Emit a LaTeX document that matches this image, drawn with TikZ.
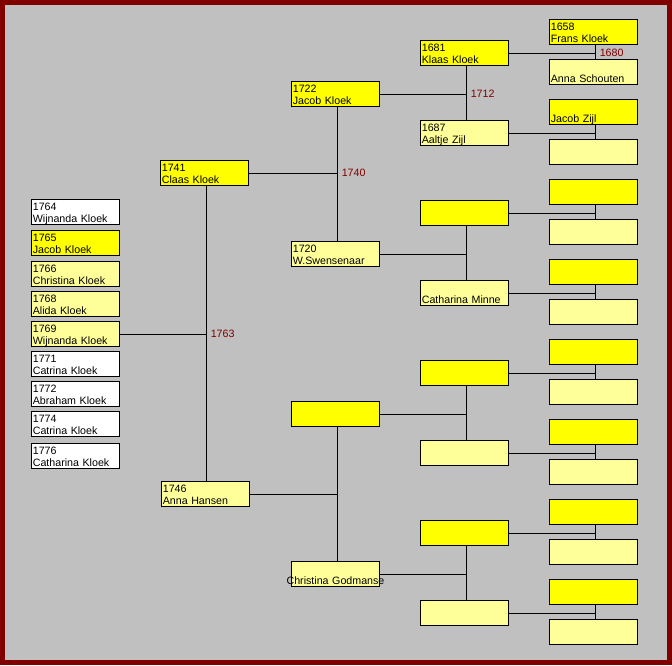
\documentclass[tikz,border=0pt]{standalone}
\usepackage{fontspec}
\setmainfont{Liberation Sans}
\definecolor{frame}{HTML}{800000}
\definecolor{panel}{HTML}{C0C0C0}
\definecolor{cman}{HTML}{FFFF00}
\definecolor{cwife}{HTML}{FFFF99}
\definecolor{cwed}{HTML}{800000}
\newcommand{\pers}[2]{\rule{0pt}{8.25pt}#1\\#2\rule[-1.5pt]{0pt}{1.5pt}}
\tikzset{
  pbox/.style={draw, line width=0.75pt, anchor=north west, minimum width=66pt,
    minimum height=18.75pt, inner xsep=1pt, inner ysep=0pt, text width=64pt,
    align=left, font=\fontsize{8}{9}\selectfont},
  kid/.style={pbox, fill=white},
  father/.style={pbox, fill=cman},
  mother/.style={pbox, fill=cwife},
  wedyear/.style={anchor=west, inner sep=0pt, xshift=3pt, text=cwed,
    font=\fontsize{8}{9}\selectfont}
}

\begin{document}
\begin{tikzpicture}[x=0.75pt, y=-0.75pt]
\useasboundingbox (0,0) rectangle (672,665);
\fill[frame] (0,0) rectangle (672,665);
\fill[panel] (5,5) rectangle (667,660);

% children
\node[kid] (k1) at (31,199) {\pers{1764}{Wijnanda Kloek}};
\node[father] (k2) at (31,230) {\pers{1765}{Jacob Kloek}};
\node[mother] (k3) at (31,261) {\pers{1766}{Christina Kloek}};
\node[mother] (k4) at (31,291) {\pers{1768}{Alida Kloek}};
\node[mother, alias=p1] (k5) at (31,321) {\pers{1769}{Wijnanda Kloek}};
\node[kid] (k6) at (31,351) {\pers{1771}{Catrina Kloek}};
\node[kid] (k7) at (31,381) {\pers{1772}{Abraham Kloek}};
\node[kid] (k8) at (31,411) {\pers{1774}{Catrina Kloek}};
\node[kid] (k9) at (31,443) {\pers{1776}{Catharina Kloek}};

% parents
\node[father] (p2) at (160,160) {\pers{1741}{Claas Kloek}};
\node[mother] (p3) at (161,481) {\pers{1746}{Anna Hansen}};

% grandparents
\node[father] (p4) at (291,81) {\pers{1722}{Jacob Kloek}};
\node[mother] (p5) at (291,241) {\pers{1720}{W.Swensenaar}};
\node[father] (p6) at (291,401) {};
\node[mother] (p7) at (291,561) {\pers{}{\makebox[64pt]{Christina Godmanse}}};

% great-grandparents
\node[father] (p8) at (420,40) {\pers{1681}{Klaas Kloek}};
\node[mother] (p9) at (420,120) {\pers{1687}{Aaltje Zijl}};
\node[father] (p10) at (420,200) {};
\node[mother] (p11) at (420,280) {\pers{}{Catharina Minne}};
\foreach \n/\y/\s in {12/360/father, 13/440/mother, 14/520/father, 15/600/mother}
  \node[\s] (p\n) at (420,\y) {};

% fifth column
\node[father] (p16) at (549,19) {\pers{1658}{Frans Kloek}};
\node[mother] (p17) at (549,59) {\pers{}{Anna Schouten}};
\node[father] (p18) at (549,99) {\pers{}{Jacob Zijl}};
\node[mother] (p19) at (549,139) {};
\foreach \n/\s in {20/father, 21/mother, 22/father, 23/mother, 24/father, 25/mother,
    26/father, 27/mother, 28/father, 29/mother, 30/father, 31/mother}{
  \pgfmathtruncatemacro\y{19+40*(\n-16)}
  \node[\s] (p\n) at (549,\y) {};
}

% couples
\foreach \n in {1,...,15}{
  \pgfmathtruncatemacro\fa{2*\n}
  \pgfmathtruncatemacro\mo{2*\n+1}
  \coordinate (t) at ([xshift=1.5pt]p\fa.south);
  \draw[line width=0.75pt] (t) -- (t |- p\mo.north);
  \coordinate (j\n) at (p\n.east -| t);
  \draw[line width=0.75pt] (p\n.east) -- (j\n);
}

\node[wedyear] (w1) at (j1) {1763};
\node[wedyear] (w2) at (j2) {1740};
\node[wedyear] (w4) at (j4) {1712};
\node[wedyear] (w8) at (j8) {1680};
\end{tikzpicture}
\end{document}
